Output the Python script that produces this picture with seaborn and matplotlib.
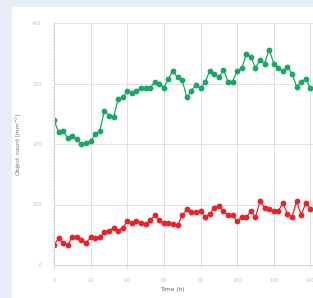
import numpy as np
import pandas as pd
import matplotlib
matplotlib.use("Agg")
import matplotlib.pyplot as plt
import seaborn as sns
from matplotlib.ticker import MultipleLocator
from matplotlib.patches import Rectangle

# time points (h), one sample every 2.5 h
time_h = [i * 2.5 for i in range(57)]

green_counts = [239, 220, 221, 210, 213, 208, 200, 201, 205, 216, 221, 255, 247, 244,
                274, 277, 287, 284, 288, 292, 292, 292, 303, 300, 293, 308, 321, 310,
                306, 277, 288, 298, 292, 302, 321, 316, 310, 323, 303, 303, 321, 325,
                348, 344, 326, 339, 333, 356, 333, 326, 320, 328, 316, 295, 302, 308, 292]

red_counts = [33, 44, 36, 33, 46, 46, 42, 36, 46, 44, 46, 54, 57, 61, 57, 61, 72, 70,
              72, 70, 67, 74, 82, 74, 70, 69, 67, 66, 82, 92, 87, 87, 89, 79, 84, 95,
              97, 90, 82, 82, 72, 79, 79, 89, 79, 105, 95, 92, 90, 89, 103, 84, 80,
              105, 82, 103, 93]

df = pd.DataFrame({
    "time": time_h * 2,
    "count": green_counts + red_counts,
    "series": ["green"] * len(time_h) + ["red"] * len(time_h),
})

sns.set_style("whitegrid")

fig = plt.figure(figsize=(3.13, 2.98), dpi=100)
fig.patch.set_facecolor("#e9edf5")
fig.patches.append(Rectangle((12 / 313, 0), 1, 1 - 7 / 298, transform=fig.transFigure,
                             facecolor="white", edgecolor="none", zorder=-5))

ax = fig.add_axes([54 / 313, 1 - 265 / 298, 293 / 313, 242 / 298])
ax.set_zorder(2)
ax.set_facecolor("white")

sns.lineplot(data=df, x="time", y="count", hue="series",
             palette={"green": "#1ca564", "red": "#e8232a"},
             marker="o", markersize=4.2, markeredgewidth=0, linewidth=0.9,
             legend=False, ax=ax)

ax.set_xlim(0, 160)
ax.set_ylim(0, 400)
ax.xaxis.set_major_locator(MultipleLocator(20))
ax.yaxis.set_major_locator(MultipleLocator(100))
ax.yaxis.set_minor_locator(MultipleLocator(5))
ax.grid(True, which="major", color="#dcdcdc", linewidth=0.6)
ax.tick_params(axis="both", which="major", labelsize=3.5, labelcolor="#c4c4c4",
               length=2, width=0.5, color="#cccccc", pad=7)
ax.tick_params(axis="y", which="minor", length=1.5, width=0.4, color="#cccccc", left=True)
ax.tick_params(axis="x", bottom=True)

for side in ["top", "right"]:
    ax.spines[side].set_visible(False)
for side in ["left", "bottom"]:
    ax.spines[side].set_color("#d8d8d8")
    ax.spines[side].set_linewidth(0.8)

ax.set_xlabel("Time (h)", fontsize=4.2, color="#666666")
ax.set_ylabel("Object count [mm$^{-2}$]", fontsize=4.2, color="#777777")
ax.xaxis.set_label_coords((172 - 54) / 293, -22 / 242)
ax.yaxis.set_label_coords((24 - 54) / 293, 0.5)

fig.savefig("out.png", dpi=100)
